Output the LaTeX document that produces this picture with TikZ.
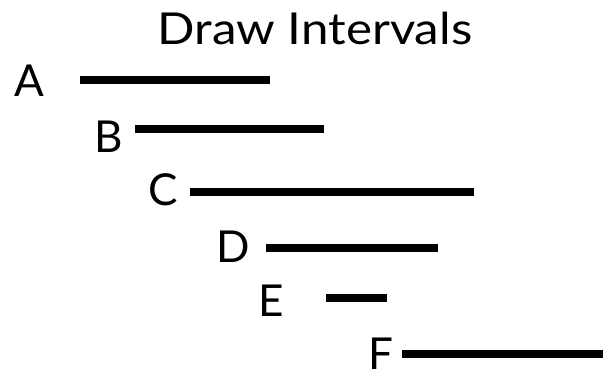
\documentclass[tikz,border=0pt]{standalone}
\usepackage{fontspec}
\setmainfont{Lato}
\tikzset{
  lbl/.style={anchor=base, inner sep=0pt, font=\fontsize{44}{44}\selectfont},
  interval/.style={line width=8pt, line cap=butt},
}
\begin{document}
\begin{tikzpicture}[x=1pt,y=-1pt]
\useasboundingbox (0,0) rectangle (603,377);
\node[lbl, xscale=1.12] (title) at (315,45) {Draw Intervals};
\node[lbl] (A) at (29,97) {A};
\node[lbl] (B) at (109,153) {B};
\node[lbl] (C) at (163,206) {C};
\node[lbl] (D) at (233,262) {D};
\node[lbl] (E) at (271,316) {E};
\node[lbl] (F) at (381,369) {F};
\coordinate (a1) at (80,80); \coordinate (a2) at (270,80);
\coordinate (b1) at (135,129); \coordinate (b2) at (324,129);
\coordinate (c1) at (190,192); \coordinate (c2) at (474,192);
\coordinate (d1) at (266,248); \coordinate (d2) at (438,248);
\coordinate (e1) at (326,298); \coordinate (e2) at (387,298);
\coordinate (f1) at (402,354); \coordinate (f2) at (603,354);
\draw[interval] (a1) -- (a2);
\draw[interval] (b1) -- (b2);
\draw[interval] (c1) -- (c2);
\draw[interval] (d1) -- (d2);
\draw[interval] (e1) -- (e2);
\draw[interval] (f1) -- (f2);
\end{tikzpicture}
\end{document}
